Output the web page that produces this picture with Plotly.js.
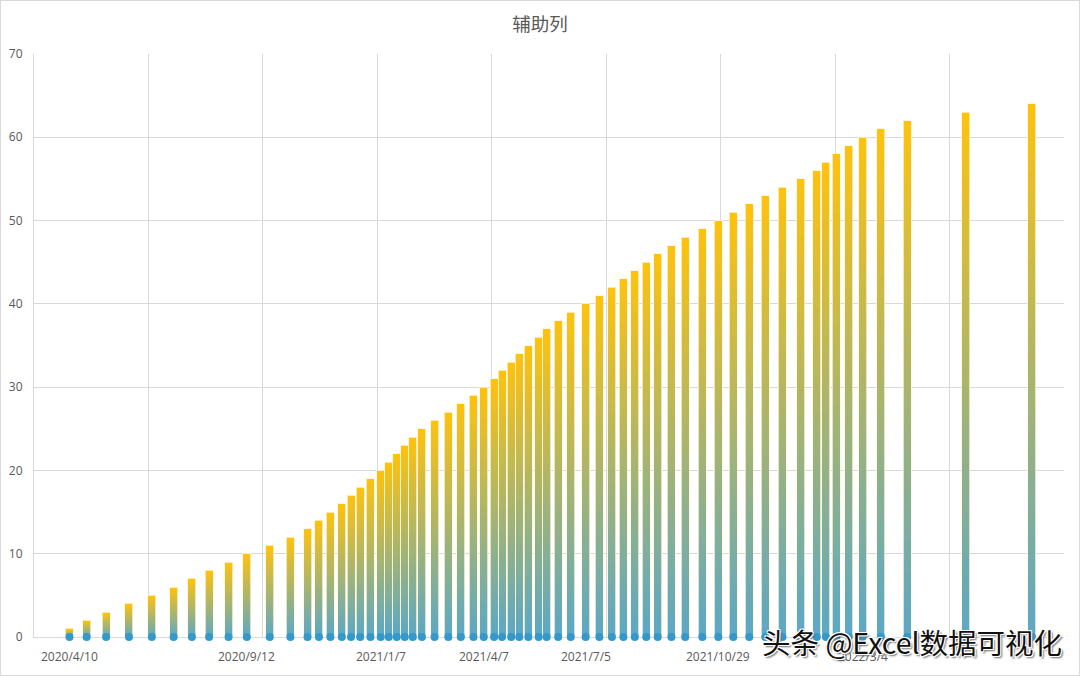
<!DOCTYPE html>
<html>
<head>
<meta charset="utf-8">
<script src="https://cdn.plot.ly/plotly-3.0.1.min.js"></script>
<style>
  html, body { margin: 0; padding: 0; background: #fff; }
  #wrap { position: relative; width: 1080px; height: 676px; }
  #plot { width: 1080px; height: 676px; }
  #frame { position: absolute; left: 0; top: 0; width: 1080px; height: 676px; box-sizing: border-box; border: 1px solid #d9d9d9; pointer-events: none; }
</style>
</head>
<body>
<div id="wrap"><div id="plot"></div><div id="frame"></div></div>
<script>
// ---- data ----
const dates = ['2020-04-10','2020-04-25','2020-05-12','2020-06-01','2020-06-21','2020-07-10','2020-07-26','2020-08-10','2020-08-27','2020-09-12',
  '2020-10-02','2020-10-20','2020-11-04','2020-11-14','2020-11-24','2020-12-04','2020-12-12','2020-12-20','2020-12-29','2021-01-07',
  '2021-01-14','2021-01-21','2021-01-28','2021-02-04','2021-02-12','2021-02-23','2021-03-07','2021-03-18','2021-03-29','2021-04-07',
  '2021-04-16','2021-04-23','2021-05-01','2021-05-08','2021-05-16','2021-05-25','2021-06-01','2021-06-11','2021-06-22','2021-07-05',
  '2021-07-17','2021-07-28','2021-08-07','2021-08-17','2021-08-27','2021-09-06','2021-09-18','2021-09-30','2021-10-15','2021-10-29',
  '2021-11-11','2021-11-25','2021-12-09','2021-12-24','2022-01-09','2022-01-23','2022-01-31','2022-02-09','2022-02-20','2022-03-04',
  '2022-03-20','2022-04-12','2022-06-02','2022-07-30'];
const values = [1,2,3,4,5,6,7,8,9,10,11,12,13,14,15,16,17,18,19,20,
  21,22,23,24,25,26,27,28,29,30,31,32,33,34,35,36,37,38,39,40,
  41,42,43,44,45,46,47,48,49,50,51,52,53,54,55,56,57,58,59,60,
  61,62,63,64];
const helper = [0,0,0,0,0,0,0,0,0,0,0,0,0,0,0,0,0,0,0,0,
  0,0,0,0,0,0,0,0,0,0,0,0,0,0,0,0,0,0,0,0,
  0,0,0,0,0,0,0,0,0,0,0,0,0,0,0,0,0,0,0,0,
  0,0,0,0];
const labelDates = ['2020-04-10','2020-09-12','2021-01-07','2021-04-07','2021-07-05','2021-10-29','2022-03-04'];
const labelTexts = ['2020/4/10','2020/9/12','2021/1/7','2021/4/7','2021/7/5','2021/10/29','2022/3/4'];

// ---- styling ----
const DAY = 86400000;
const barWidth = 7 * DAY;
const topColor = [255, 194, 12];
const botColor = [90, 168, 200];
const STEPS = 48;
const grey = '#595959';
const gridC = '#d9d9d9';

const traces = [];
// vertical gradient per bar: each bar is drawn as a stack of equal slices
for (let k = 0; k < STEPS; k++) {
  const t = (k + 0.5) / STEPS;
  const c = botColor.map((b, i) => Math.round(b + (topColor[i] - b) * t));
  traces.push({
    type: 'bar', x: dates, y: values.map(v => v / STEPS),
    width: barWidth, xaxis: 'x', yaxis: 'y',
    marker: { color: 'rgb(' + c.join(',') + ')', line: { width: 0 } },
    hoverinfo: 'skip', showlegend: false
  });
}
// pale outline of each bar
traces.push({
  type: 'bar', x: dates, y: values, width: barWidth, xaxis: 'x2', yaxis: 'y',
  marker: { color: 'rgba(0,0,0,0)', line: { color: 'rgba(255,245,215,0.75)', width: 1 } },
  name: '辅助列', showlegend: false, hoverinfo: 'x+y'
});
// helper series dots on the zero line
traces.push({
  type: 'scatter', mode: 'markers', x: dates, y: helper, xaxis: 'x2', yaxis: 'y',
  marker: { color: '#3399cc', size: 8, line: { width: 0 } }, cliponaxis: false, showlegend: false, name: '辅助列'
});

const annotations = labelDates.map((d, i) => ({
  x: d, y: 0, xref: 'x', yref: 'y', text: labelTexts[i], showarrow: false,
  yanchor: 'middle', xanchor: 'center', yshift: -19,
  font: { family: 'Open Sans, sans-serif', size: 12, color: grey }
}));
annotations.push({
  xref: 'paper', yref: 'paper', x: 1.0, y: -0.008, xanchor: 'right', yanchor: 'middle',
  text: '头条 @Excel数据可视化', showarrow: false,
  font: { family: 'Noto Sans CJK SC, sans-serif', size: 28.5, color: '#111',
    shadow: '-1px -1px 0 #fff, 1px -1px 0 #fff, -1px 1px 0 #fff, 1px 1px 0 #fff, 2px 2px 2px #666' }
});

const xRange = ['2020-03-10', '2022-08-27'];
const layout = {
  width: 1080, height: 676,
  margin: { l: 34, r: 16, t: 54, b: 39 },
  paper_bgcolor: '#fff', plot_bgcolor: '#fff',
  barmode: 'stack',
  title: { text: '辅助列', xref: 'container', yref: 'container', x: 0.5, y: 0.964,
    xanchor: 'center', yanchor: 'middle',
    font: { family: 'Noto Sans CJK SC, sans-serif', size: 18.5, color: grey } },
  xaxis: {
    type: 'date', range: xRange, tick0: '2020-03-10', dtick: 100 * DAY,
    showticklabels: false, ticks: '', showgrid: true, gridcolor: gridC, gridwidth: 1,
    showline: true, linecolor: gridC, linewidth: 1, zeroline: false, fixedrange: true,
    layer: 'below traces'
  },
  xaxis2: { type: 'date', overlaying: 'x', matches: 'x', range: xRange, visible: false, anchor: 'y', layer: 'below traces' },
  yaxis: {
    range: [0, 70], dtick: 10, tick0: 0, showgrid: true, gridcolor: gridC, gridwidth: 1,
    showline: true, linecolor: gridC, linewidth: 1, zeroline: false, ticks: '',
    ticklabelstandoff: 8, layer: 'below traces',
    tickfont: { family: 'Open Sans, sans-serif', size: 12, color: grey }
  },
  annotations: annotations,
  showlegend: false
};

Plotly.newPlot('plot', traces, layout, { displayModeBar: false });
</script>
</body>
</html>
